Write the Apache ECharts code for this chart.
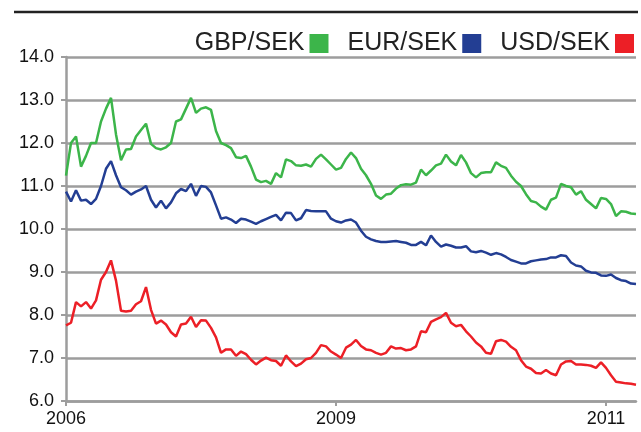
<!DOCTYPE html>
<html>
<head>
<meta charset="utf-8">
<script src="https://cdn.jsdelivr.net/npm/echarts@6/dist/echarts.min.js"></script>
<style>
    html, body { margin: 0; padding: 0; background: #fff; }
    #chart { width: 641px; height: 432px; }
</style>
</head>
<body>
<div id="chart"></div>
<script>
// exchange rates, one value per sample along the category axis
const gbp = [
    11.24, 12.0, 12.15, 11.45, 11.7, 12.0, 12.0, 12.5, 12.8, 13.05,
    12.2, 11.6, 11.85, 11.86, 12.15, 12.3, 12.45, 11.98, 11.88, 11.85,
    11.9, 12.0, 12.5, 12.55, 12.8, 13.05, 12.7, 12.8, 12.83, 12.77,
    12.28, 12.0, 11.95, 11.88, 11.67, 11.65, 11.7, 11.45, 11.15, 11.09,
    11.12, 11.05, 11.3, 11.2, 11.62, 11.58, 11.48, 11.47, 11.5, 11.45,
    11.63, 11.73, 11.62, 11.5, 11.38,
    11.42, 11.63, 11.78, 11.65, 11.4, 11.25, 11.05, 10.78, 10.7, 10.8,
    10.82, 10.94, 11.02, 11.04, 11.03, 11.08, 11.38, 11.25, 11.36, 11.48,
    11.52, 11.73, 11.57, 11.48, 11.72, 11.55, 11.3, 11.2, 11.3, 11.32,
    11.32, 11.55, 11.47, 11.42, 11.24, 11.1, 11.0, 10.81, 10.65, 10.62,
    10.52, 10.45, 10.68, 10.73, 11.05, 11.0, 10.97, 10.8, 10.88, 10.68,
    10.58, 10.48, 10.72, 10.7, 10.58, 10.3, 10.41, 10.4, 10.36, 10.35
];
const eur = [
    10.87, 10.64, 10.9, 10.66, 10.68, 10.58, 10.7, 11.0, 11.4, 11.58,
    11.25, 10.97, 10.9, 10.8, 10.87, 10.92, 11.0, 10.68, 10.5, 10.66,
    10.48, 10.62, 10.83, 10.93, 10.88, 11.05, 10.77, 11.0, 10.98, 10.85,
    10.55, 10.24, 10.27, 10.22, 10.14, 10.24, 10.22, 10.17, 10.12, 10.18,
    10.23, 10.28, 10.33, 10.2, 10.38, 10.37, 10.2, 10.25, 10.44, 10.42,
    10.41, 10.41, 10.41, 10.24, 10.18,
    10.15, 10.2, 10.22, 10.15, 9.96, 9.82, 9.76, 9.72, 9.7, 9.7,
    9.71, 9.72, 9.7, 9.68, 9.63, 9.63, 9.7, 9.62, 9.85, 9.7,
    9.59, 9.64, 9.61, 9.57, 9.57, 9.6, 9.48, 9.46, 9.49, 9.45,
    9.4, 9.44, 9.41, 9.35, 9.28, 9.24, 9.2, 9.2, 9.25, 9.27,
    9.29, 9.3, 9.34, 9.34, 9.39, 9.37, 9.22, 9.15, 9.13, 9.03,
    8.99, 8.98, 8.92, 8.91, 8.94, 8.86, 8.81, 8.79, 8.73, 8.72
];
const usd = [
    7.76, 7.82, 8.3, 8.2, 8.3, 8.15, 8.34, 8.82, 9.0, 9.27,
    8.8, 8.1, 8.08, 8.1, 8.25, 8.32, 8.65, 8.12, 7.8, 7.87,
    7.78, 7.6, 7.5, 7.78, 7.8, 7.96, 7.72, 7.88, 7.87, 7.7,
    7.48, 7.12, 7.2, 7.2, 7.05, 7.15, 7.09, 6.96, 6.85, 6.94,
    7.01, 6.95, 6.93, 6.82, 7.06, 6.92, 6.81, 6.87, 6.97, 7.0,
    7.12, 7.3, 7.27, 7.15, 7.08,
    7.0, 7.24, 7.31, 7.42, 7.28, 7.2, 7.18, 7.12, 7.08, 7.12,
    7.27, 7.22, 7.23, 7.18, 7.2, 7.27, 7.62, 7.6, 7.84, 7.9,
    7.95, 8.05, 7.82, 7.74, 7.77, 7.62, 7.5, 7.36, 7.27, 7.12,
    7.1, 7.39, 7.42, 7.38, 7.26, 7.18, 6.95, 6.8, 6.75, 6.65,
    6.64, 6.72, 6.64, 6.6, 6.85, 6.92, 6.93, 6.85, 6.85, 6.84,
    6.82, 6.77, 6.9, 6.77, 6.6, 6.45, 6.43, 6.41, 6.4, 6.38
];
// x tick labels and the sample index they sit on
const tickLabels = ['2006', '2009', '2011'];
const tickIndex = [0, 54, 108];

const categories = gbp.map(function (v, i) { return String(i); });
const font = "'Liberation Sans', Arial, sans-serif";
const gridColor = '#9d9d9d';

let chart = echarts.init(document.getElementById('chart'));
let option = {
    animation: false,
    textStyle: { fontFamily: font },
    color: ['#3cb54a', '#233e93', '#ec1f26'],
    graphic: [{
        type: 'line',
        shape: { x1: 14, y1: 12, x2: 638, y2: 12 },
        style: { stroke: '#222', lineWidth: 2.5 }
    }],
    legend: {
        right: 2,
        top: 26,
        align: 'right',
        itemWidth: 19,
        itemHeight: 19,
        itemGap: 19,
        icon: 'rect',
        textStyle: { fontSize: 25, color: '#222', fontFamily: font },
        data: ['GBP/SEK', 'EUR/SEK', 'USD/SEK']
    },
    grid: { left: 66, right: 5, top: 57, bottom: 31 },
    xAxis: {
        type: 'category',
        boundaryGap: false,
        data: categories,
        axisLine: { lineStyle: { color: gridColor, width: 2.5 } },
        axisTick: {
            show: true,
            length: 5,
            interval: function (i) { return tickIndex.indexOf(i) >= 0; },
            lineStyle: { color: gridColor, width: 2 }
        },
        axisLabel: {
            interval: function (i) { return tickIndex.indexOf(i) >= 0; },
            formatter: function (v, i) { return tickLabels[tickIndex.indexOf(i)] || ''; },
            fontSize: 18,
            color: '#111',
            margin: 9
        },
        splitLine: { show: false }
    },
    yAxis: {
        type: 'value',
        min: 6,
        max: 14,
        interval: 1,
        axisLine: { show: true, lineStyle: { color: gridColor, width: 2.5 } },
        axisTick: { show: true, length: 5, lineStyle: { color: gridColor, width: 2 } },
        axisLabel: {
            formatter: function (v) { return v.toFixed(1); },
            fontSize: 18,
            color: '#111',
            margin: 12
        },
        splitLine: { lineStyle: { color: gridColor, width: 2.5 } }
    },
    series: [
        { name: 'GBP/SEK', type: 'line', data: gbp, symbol: 'none', lineStyle: { width: 2.5 } },
        { name: 'EUR/SEK', type: 'line', data: eur, symbol: 'none', lineStyle: { width: 2.5 } },
        { name: 'USD/SEK', type: 'line', data: usd, symbol: 'none', lineStyle: { width: 2.5 } }
    ]
};
chart.setOption(option);
</script>
</body>
</html>
